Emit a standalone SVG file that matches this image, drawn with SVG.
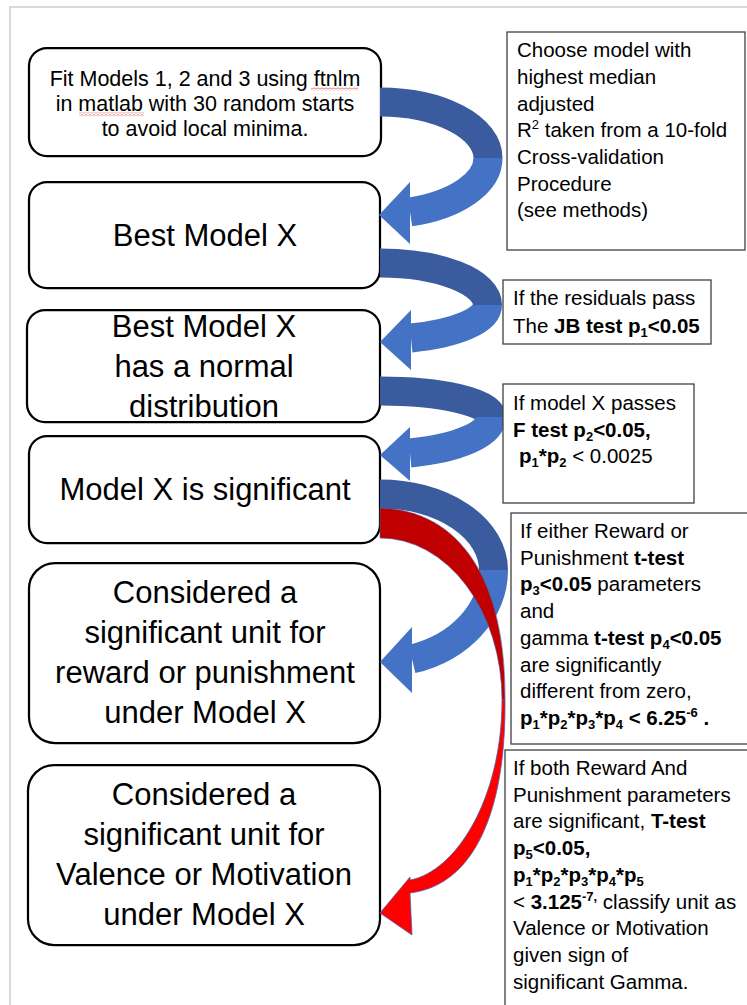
<svg xmlns="http://www.w3.org/2000/svg" width="747" height="1005" viewBox="0 0 747 1005">
<style>
.node{fill:#fff;stroke:#000;stroke-width:2.25}
.note{fill:#fff;stroke:#404040;stroke-width:1.3}
.nt{font-family:"Liberation Sans",Arial,sans-serif;font-size:31px;text-anchor:middle;fill:#000}
.ft{font-family:"Liberation Sans",Arial,sans-serif;font-size:21.5px;text-anchor:middle;fill:#000}
.bt{font-family:"Liberation Sans",Arial,sans-serif;font-size:20.5px;fill:#000}
.b{font-weight:bold}
.s{font-size:13px}
.dk{fill:none;stroke:#3A5C9E;stroke-width:29}
.lt{fill:none;stroke:#4472C4;stroke-width:29}
.hd{fill:#4472C4}
</style>
<defs>
<pattern id="squig" width="4" height="3" patternUnits="userSpaceOnUse">
<path d="M0,2.5 L2,0.5 L4,2.5" fill="none" stroke="#e02020" stroke-width="0.8"/>
</pattern>
</defs>
<rect x="0" y="0" width="747" height="1005" fill="#fff"/>
<g id="page-frame" fill="none" stroke="#d9d9d9" stroke-width="2">
<path d="M10,1005 L10,7 L747,7"/>
</g>

<g id="node-fit">
<rect class="node" x="29" y="48" width="352" height="108" rx="18"/>
<text class="ft" x="205" y="86">Fit Models 1, 2 and 3 using ftnlm</text>
<text class="ft" x="205" y="111">in matlab with 30 random starts</text>
<text class="ft" x="205" y="136">to avoid local minima.</text>
<rect x="311" y="87.5" width="47" height="3" fill="url(#squig)"/>
<rect x="79" y="112.5" width="65" height="3" fill="url(#squig)"/>
</g>
<g id="node-best">
<rect class="node" x="29" y="182" width="351" height="106" rx="18"/>
<text class="nt" x="205" y="246">Best Model X</text>
</g>
<g id="node-normal">
<rect class="node" x="27" y="310" width="353" height="112" rx="18"/>
<text class="nt" x="204" y="337">Best Model X</text>
<text class="nt" x="204" y="377">has a normal</text>
<text class="nt" x="204" y="417">distribution</text>
</g>
<g id="node-significant">
<rect class="node" x="29" y="436" width="351" height="107" rx="18"/>
<text class="nt" x="205" y="500">Model X is significant</text>
</g>
<g id="node-unit-rp">
<rect class="node" x="29" y="563" width="351" height="180" rx="26"/>
<text class="nt" x="205" y="603">Considered a</text>
<text class="nt" x="205" y="643">significant unit for</text>
<text class="nt" x="205" y="683">reward or punishment</text>
<text class="nt" x="205" y="723">under Model X</text>
</g>
<g id="node-unit-vm">
<rect class="node" x="28" y="765" width="352" height="180" rx="26"/>
<text class="nt" x="204" y="805">Considered a</text>
<text class="nt" x="204" y="845">significant unit for</text>
<text class="nt" x="204" y="885">Valence or Motivation</text>
<text class="nt" x="204" y="925">under Model X</text>
</g>

<g id="connectors">
<g id="arrow-fit-best">
<path class="dk" d="M380,102 A108,56 0 0 1 488,158"/>
<path class="lt" d="M488,158 A108,56.2 0 0 1 410,212"/>
<polygon class="hd" points="410,182 379,215 410,244"/>
</g>
<g id="arrow-best-normal">
<path class="dk" d="M380,263 A107.5,42 0 0 1 487.5,305"/>
<path class="lt" d="M487.5,305 A107.5,34.5 0 0 1 411,338"/>
<polygon class="hd" points="411,310 380,342 411,370"/>
</g>
<g id="arrow-normal-significant">
<path class="dk" d="M380,391 A111.5,26 0 0 1 491.5,417"/>
<path class="lt" d="M491.5,417 A111.5,37.4 0 0 1 410,453"/>
<polygon class="hd" points="410,427 380,455 410,481"/>
</g>
<g id="arrow-significant-rp">
<path class="dk" d="M380,494 A113.5,76 0 0 1 493.5,570"/>
<path class="lt" d="M493.5,570 A113.5,92.8 0 0 1 412,659"/>
<polygon class="hd" points="412,627 380,662 412,693"/>
</g>
<g id="arrow-significant-vm">
<path d="M380,508 C460,510 506,580 505,700 L502,700 A122,162 0 0 0 380,538 Z" fill="#C00000" stroke="#4a5fa8" stroke-width="0.6"/>
<path d="M505,700 C506,810 475,885 410,893 L412,935 L380,913 L410,877 L410,880 C455,872 502,800 502,700 Z" fill="#FF0000" stroke="#4a5fa8" stroke-width="0.8"/>
</g>
</g>

<g id="note-choose">
<rect class="note" x="507" y="32" width="238" height="218"/>
<text class="bt" x="517" y="57">Choose model with</text>
<text class="bt" x="517" y="84">highest median</text>
<text class="bt" x="517" y="110.5">adjusted</text>
<text class="bt" x="517" y="137">R<tspan class="s" dy="-8">2</tspan><tspan dy="8"> taken from a 10-fold</tspan></text>
<text class="bt" x="517" y="164">Cross-validation</text>
<text class="bt" x="517" y="190.5">Procedure</text>
<text class="bt" x="517" y="217">(see methods)</text>
</g>
<g id="note-jb">
<rect class="note" x="503" y="280" width="208" height="64"/>
<text class="bt" x="513" y="305">If the residuals pass</text>
<text class="bt" x="513" y="333">The <tspan class="b">JB test p</tspan><tspan class="b s" dy="4">1</tspan><tspan class="b" dy="-4">&lt;0.05</tspan></text>
</g>
<g id="note-f">
<rect class="note" x="503" y="384" width="191" height="119"/>
<text class="bt" x="513" y="410">If model X passes</text>
<text class="bt" x="513" y="437"><tspan class="b">F test p</tspan><tspan class="b s" dy="4">2</tspan><tspan class="b" dy="-4">&lt;0.05,</tspan></text>
<text class="bt" x="519" y="463"><tspan class="b">p</tspan><tspan class="b s" dy="4">1</tspan><tspan class="b" dy="-4">*p</tspan><tspan class="b s" dy="4">2</tspan><tspan dy="-4"> &lt; 0.0025</tspan></text>
</g>
<g id="note-t">
<rect class="note" x="511" y="513" width="260" height="231"/>
<text class="bt" x="520" y="538">If either Reward or</text>
<text class="bt" x="520" y="564.7">Punishment <tspan class="b">t-test</tspan></text>
<text class="bt" x="520" y="591.4"><tspan class="b">p</tspan><tspan class="b s" dy="4">3</tspan><tspan class="b" dy="-4">&lt;0.05</tspan> parameters</text>
<text class="bt" x="520" y="618.1">and</text>
<text class="bt" x="520" y="644.8">gamma <tspan class="b">t-test p</tspan><tspan class="b s" dy="4">4</tspan><tspan class="b" dy="-4">&lt;0.05</tspan></text>
<text class="bt" x="520" y="671.5">are significantly</text>
<text class="bt" x="520" y="698.2">different from zero,</text>
<text class="bt b" x="520" y="724.9">p<tspan class="s" dy="4">1</tspan><tspan dy="-4">*p</tspan><tspan class="s" dy="4">2</tspan><tspan dy="-4">*p</tspan><tspan class="s" dy="4">3</tspan><tspan dy="-4">*p</tspan><tspan class="s" dy="4">4</tspan><tspan dy="-4"> &lt; 6.25</tspan><tspan class="s" dy="-8">-6</tspan><tspan dy="8"> .</tspan></text>
</g>
<g id="note-T">
<rect class="note" x="505" y="750" width="260" height="300"/>
<text class="bt" x="513" y="775">If both Reward And</text>
<text class="bt" x="513" y="801.7">Punishment parameters</text>
<text class="bt" x="513" y="828.4">are significant, <tspan class="b">T-test</tspan></text>
<text class="bt b" x="513" y="855.1">p<tspan class="s" dy="4">5</tspan><tspan dy="-4">&lt;0.05,</tspan></text>
<text class="bt b" x="513" y="881.8">p<tspan class="s" dy="4">1</tspan><tspan dy="-4">*p</tspan><tspan class="s" dy="4">2</tspan><tspan dy="-4">*p</tspan><tspan class="s" dy="4">3</tspan><tspan dy="-4">*p</tspan><tspan class="s" dy="4">4</tspan><tspan dy="-4">*p</tspan><tspan class="s" dy="4">5</tspan></text>
<text class="bt" x="513" y="908.5">&lt; <tspan class="b">3.125</tspan><tspan class="b s" dy="-8">-7,</tspan><tspan dy="8"> classify unit as</tspan></text>
<text class="bt" x="513" y="935.2">Valence or Motivation</text>
<text class="bt" x="513" y="961.9">given sign of</text>
<text class="bt" x="513" y="988.6">significant Gamma.</text>
</g>
</svg>
